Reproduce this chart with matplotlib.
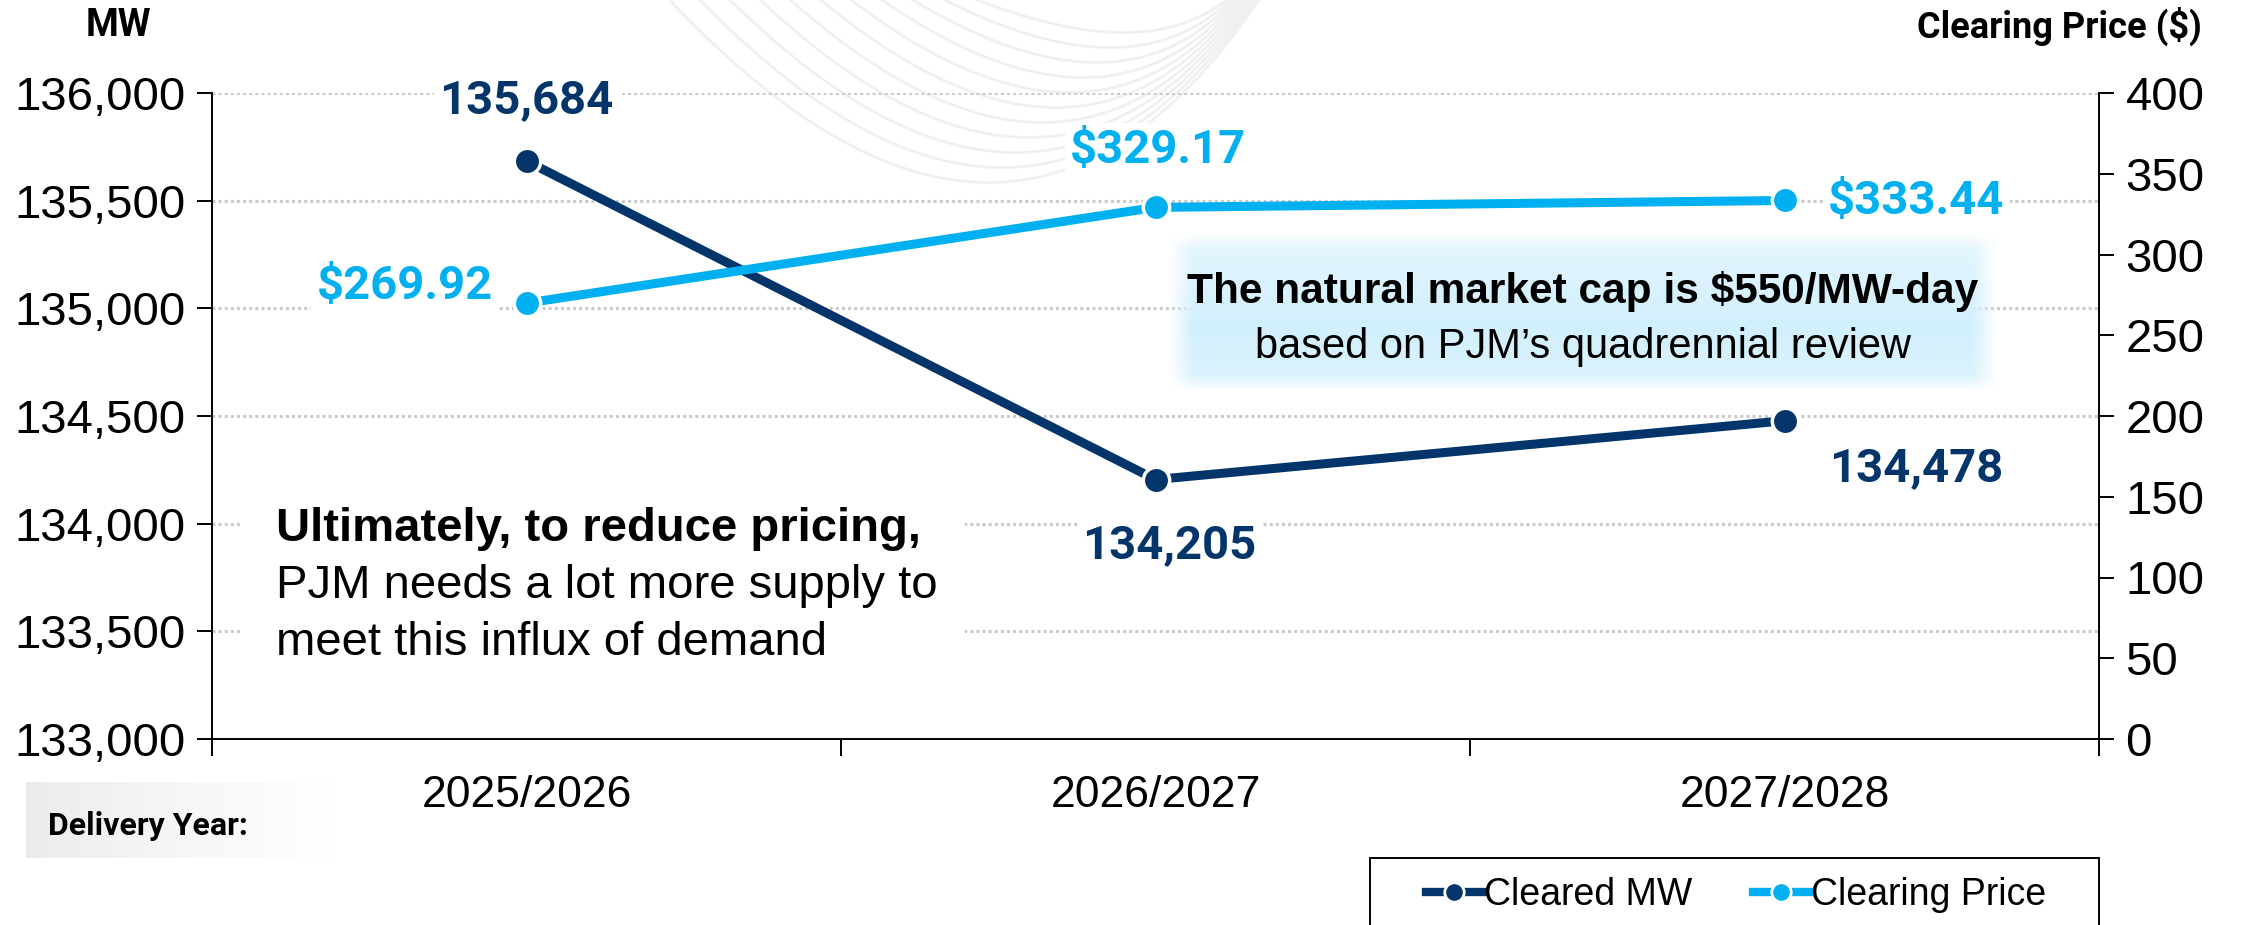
import matplotlib
matplotlib.use('Agg')
import matplotlib.pyplot as plt
import numpy as np
from matplotlib.lines import Line2D
from matplotlib.patches import Rectangle
from matplotlib.ticker import FuncFormatter

# ---------------- data ----------------
years = ['2025/2026', '2026/2027', '2027/2028']
cleared_mw = [135684, 134205, 134478]
clearing_price = [269.92, 329.17, 333.44]
mw_labels = ['135,684', '134,205', '134,478']
price_labels = ['$269.92', '$329.17', '$333.44']
mw_ticks = [133000, 133500, 134000, 134500, 135000, 135500, 136000]
price_ticks = [0, 50, 100, 150, 200, 250, 300, 350, 400]
series_names = ['Cleared MW', 'Clearing Price']

NAVY = '#03356B'
LIGHT = '#00B0F0'
NARROW = ['Liberation Sans Narrow', 'Liberation Sans', 'DejaVu Sans']
BOLDF = ['Roboto', 'DejaVu Sans']

plt.rcParams['font.family'] = NARROW

W, H = 2242, 925
fig = plt.figure(figsize=(W / 100, H / 100), dpi=100)


def fx(px):
    return px / W


def fy(py):
    return 1 - py / H


# ---------------- background decoration ----------------
bg = fig.add_axes([0, 0, 1, 1], zorder=-1)
bg.set_xlim(0, W)
bg.set_ylim(H, 0)
bg.axis('off')
t = np.linspace(0, 1, 200)
for i in range(11):
    xl = 665 + i * 30
    xr = 1262 - i * 3
    yb = 180 - i * 15
    cx = (xl + xr) / 2 + 50
    cy = 2 * yb + 10
    bx = (1 - t) ** 2 * xl + 2 * (1 - t) * t * cx + t ** 2 * xr
    by = (1 - t) ** 2 * (-5) + 2 * (1 - t) * t * cy + t ** 2 * (-5)
    bg.plot(bx, by, color='#f0f0f0', lw=2, zorder=0)

# ---------------- main axes ----------------
ax = fig.add_axes([fx(212), fy(739), fx(2099) - fx(212), fy(93) - fy(739)])
ax.patch.set_alpha(0)
x = np.arange(len(years)) + 0.5
ax.set_xlim(0, len(years))
ax.set_ylim(mw_ticks[0], mw_ticks[-1])
ax.set_yticks(mw_ticks)
ax.yaxis.set_major_formatter(FuncFormatter(lambda v, p: f'{int(v):,}'))
ax.set_xticks(np.arange(len(years) + 1))
ax.set_xticklabels([])
ax.set_xticks(x, minor=True)
ax.set_xticklabels(years, minor=True)
ax.tick_params(axis='x', which='major', direction='out', length=12, width=1.4)
ax.tick_params(axis='x', which='minor', length=0, pad=26, labelsize=32)
ax.tick_params(axis='y', direction='out', length=11, width=1.4, labelsize=34, pad=8)
for s in ['top', 'right']:
    ax.spines[s].set_visible(False)
for s in ['left', 'bottom']:
    ax.spines[s].set_linewidth(1.4)
ax.yaxis.grid(True, color='#cbcbcb', lw=2.2, linestyle=(0, (1, 1)))
ax.set_axisbelow(True)

ax.plot(x, cleared_mw, color=NAVY, lw=6.5, marker='o', ms=19, mec='white', mew=2.5,
        zorder=3, solid_capstyle='butt')

ax2 = ax.twinx()
ax2.set_ylim(price_ticks[0], price_ticks[-1])
ax2.set_yticks(price_ticks)
ax2.tick_params(axis='y', direction='out', length=11, width=1.4, labelsize=34, pad=8)
for s in ['top', 'left', 'bottom']:
    ax2.spines[s].set_visible(False)
ax2.spines['right'].set_linewidth(1.4)
ax2.plot(x, clearing_price, color=LIGHT, lw=6.5, marker='o', ms=19, mec='white', mew=2.5,
         zorder=3, solid_capstyle='butt')

mw_off = [(0, 61), (14, -66), (132, -47)]
price_off = [(-122, 17), (3, 57), (132, -1)]
for xi, yi, lab, off in zip(x, cleared_mw, mw_labels, mw_off):
    ax.annotate(lab, (xi, yi), xytext=off, textcoords='offset pixels', ha='center',
                va='center', fontsize=34, fontweight='bold', color=NAVY, family=BOLDF,
                bbox=dict(fc='white', ec='none', pad=4), zorder=5)
for xi, yi, lab, off in zip(x, clearing_price, price_labels, price_off):
    ax2.annotate(lab, (xi, yi), xytext=off, textcoords='offset pixels', ha='center',
                 va='center', fontsize=34, fontweight='bold', color=LIGHT, family=BOLDF,
                 bbox=dict(fc='white', ec='none', pad=4), zorder=5)

# ---------------- annotation box (gradient) ----------------
bx0, bx1, by0, by1 = 1168, 1998, 232, 392
box = fig.add_axes([fx(bx0), fy(by1), fx(bx1) - fx(bx0), fy(by0) - fy(by1)], zorder=3)
box.axis('off')
nh, nw = 100, 400
yy = np.linspace(0, 1, nh)[:, None]
xx = np.linspace(0, 1, nw)[None, :]
vert = np.clip(1 - np.abs(yy - 0.6) / 0.6, 0, 1) ** 0.7
edge_x = np.clip(np.minimum(xx, 1 - xx) / 0.03, 0, 1)
edge_y = np.clip(np.minimum(yy, 1 - yy) / 0.1, 0, 1)
mix = 0.25 + 0.75 * vert
c_light = np.array([0.95, 0.985, 1.0])
c_dark = np.array([0.82, 0.94, 0.99])
rgb = c_light[None, None, :] * (1 - mix[..., None]) + c_dark[None, None, :] * mix[..., None]
rgb = np.broadcast_to(rgb, (nh, nw, 3))
alpha = (edge_x * edge_y)[..., None]
img = np.concatenate([rgb, np.broadcast_to(alpha, (nh, nw, 1))], axis=2)
box.imshow(img, extent=[0, 1, 0, 1], aspect='auto', origin='upper')
box.set_xlim(0, 1)
box.set_ylim(0, 1)
box.text(0.5, 0.63, 'The natural market cap is $550/MW-day', ha='center', va='center',
         fontsize=30.5, fontweight='bold', color='black')
box.text(0.5, 0.28, 'based on PJM\u2019s quadrennial review', ha='center', va='center',
         fontsize=30, color='black')

# ---------------- left message ----------------
fig.patches.append(Rectangle((fx(243), fy(680)), fx(965) - fx(243), fy(490) - fy(680),
                             transform=fig.transFigure, fc='white', ec='none', zorder=1))
fig.text(fx(276), fy(529), 'Ultimately, to reduce pricing,', ha='left', va='center',
         fontsize=34, fontweight='bold', zorder=2)
fig.text(fx(276), fy(586), 'PJM needs a lot more supply to', ha='left', va='center',
         fontsize=34, zorder=2)
fig.text(fx(276), fy(643), 'meet this influx of demand', ha='left', va='center',
         fontsize=34, zorder=2)

# ---------------- axis titles ----------------
fig.text(fx(118), fy(26), 'MW', ha='center', va='center', fontsize=27,
         fontweight='bold', family=BOLDF)
fig.text(fx(2202), fy(26), 'Clearing Price ($)', ha='right', va='center', fontsize=26,
         fontweight='bold', family=BOLDF)

# ---------------- Delivery Year box ----------------
dx0, dx1, dy0, dy1 = 26, 336, 782, 858
dbox = fig.add_axes([fx(dx0), fy(dy1), fx(dx1) - fx(dx0), fy(dy0) - fy(dy1)], zorder=3)
dbox.axis('off')
gx = np.linspace(0, 1, 300)
g = 0.92 + 0.08 * gx ** 0.8
dimg = np.tile(g[None, :, None], (10, 1, 3))
dbox.imshow(dimg, extent=[0, 1, 0, 1], aspect='auto', vmin=0, vmax=1)
dbox.set_xlim(0, 1)
dbox.set_ylim(0, 1)
dbox.text(0.07, 0.42, 'Delivery Year:', ha='left', va='center', fontsize=23,
          fontweight='bold', family=BOLDF)

# ---------------- legend ----------------
fig.patches.append(Rectangle((fx(1370), fy(980)), fx(2099) - fx(1370), fy(858) - fy(980),
                             transform=fig.transFigure, fc='white', ec='black', lw=1.4,
                             zorder=1))
handles = [Line2D([], [], color=NAVY, lw=6, marker='o', ms=14, mec='white', mew=2),
           Line2D([], [], color=LIGHT, lw=6, marker='o', ms=14, mec='white', mew=2)]
leg = fig.legend(handles, series_names, loc='center', bbox_to_anchor=(fx(1736), fy(895)),
                 ncol=2, frameon=False, fontsize=27, handlelength=1.5, columnspacing=1.6,
                 handletextpad=0.05)
leg.set_zorder(2)

fig.savefig('out.png', dpi=100)
